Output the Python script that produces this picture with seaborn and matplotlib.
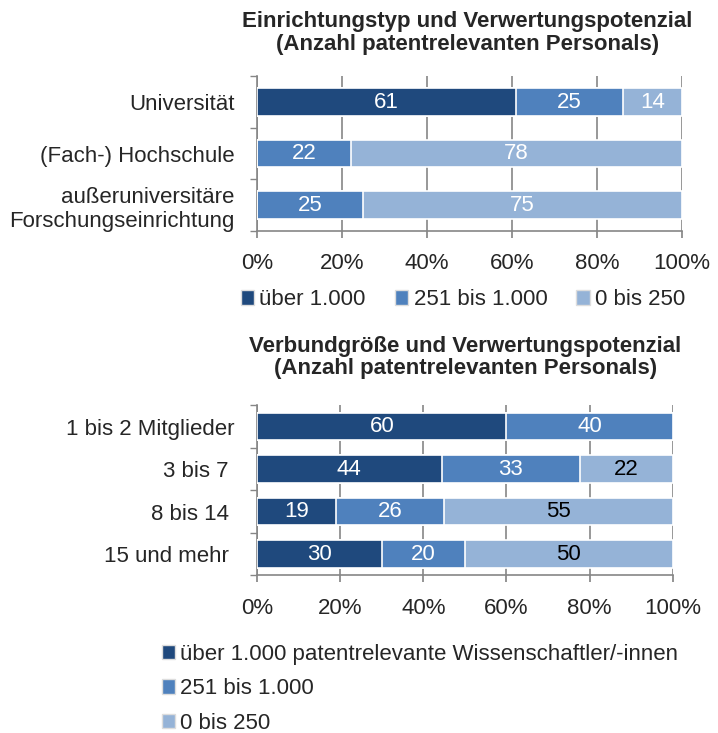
import matplotlib
matplotlib.use("Agg")
import matplotlib.pyplot as plt
from matplotlib.patches import Patch
import numpy as np
import seaborn as sns

# data
types = ["Universität", "(Fach-) Hochschule", "außeruniversitäre\nForschungseinrichtung"]
types_hi = [61, 0, 0]
types_mid = [25, 22, 25]
types_lo = [14, 78, 75]

sizes = ["1 bis 2 Mitglieder", "3 bis 7 ", "8 bis 14 ", "15 und mehr "]
sizes_hi = [60, 44.4, 19, 30]
sizes_mid = [40, 33.3, 26, 20]
sizes_lo = [0, 22.3, 55, 50]

ticks = [0, 20, 40, 60, 80, 100]
tick_labels = ["0%", "20%", "40%", "60%", "80%", "100%"]

legend_top = ["über 1.000", "251 bis 1.000", "0 bis 250"]
legend_bottom = ["über 1.000 patentrelevante Wissenschaftler/-innen", "251 bis 1.000", "0 bis 250"]

title_top = "Einrichtungstyp und Verwertungspotenzial\n(Anzahl patentrelevanten Personals)"
title_bottom = "Verbundgröße und Verwertungspotenzial\n(Anzahl patentrelevanten Personals)"

colors = ["#1F497D", "#4F81BD", "#95B3D7"]

sns.set_theme(style="white")
plt.rcParams["font.family"] = ["Liberation Sans", "DejaVu Sans"]

FS = 16

fig = plt.figure(figsize=(7.18, 7.33), dpi=100)
ax1 = fig.add_axes([0.358, 0.685, 0.592, 0.211])
ax2 = fig.add_axes([0.358, 0.215, 0.579, 0.232])


def stacked(ax, cats, hi, mid, lo, width, lo_text):
    hi = np.array(hi)
    mid = np.array(mid)
    lo = np.array(lo)
    layers = [hi + mid + lo, hi + mid, hi]
    cols = [colors[2], colors[1], colors[0]]
    for vals, c in zip(layers, cols):
        sns.barplot(x=vals, y=cats, orient="h", color=c, saturation=1,
                    width=width, edgecolor="white", linewidth=1.2, ax=ax, zorder=3)
    # labels
    for i in range(len(cats)):
        starts = [0, hi[i], hi[i] + mid[i]]
        for j, v in enumerate([hi[i], mid[i], lo[i]]):
            if v <= 0:
                continue
            tc = lo_text if j == 2 else "white"
            ax.text(starts[j] + v / 2, i, f"{v:.0f}", ha="center", va="center",
                    color=tc, fontsize=FS, zorder=5)
    ax.set_xlim(0, 100)
    ax.set_ylim(len(cats) - 0.5, -0.5)
    ax.set_xticks(ticks)
    ax.set_xticklabels(tick_labels, fontsize=FS)
    ax.set_xlabel("")
    ax.set_ylabel("")
    ax.tick_params(axis="y", labelsize=FS, length=0, pad=16)
    ax.set_yticks(np.arange(-0.5, len(cats), 1.0), minor=True)
    ax.tick_params(axis="y", which="minor", length=5, color="#868686", direction="out", left=True)
    ax.tick_params(axis="x", length=5, color="#868686", direction="out", bottom=True, pad=11)
    ax.grid(axis="x", color="#868686", linewidth=1.2, zorder=0)
    ax.set_axisbelow(True)
    for s in ["top", "right"]:
        ax.spines[s].set_visible(False)
    for s in ["left", "bottom"]:
        ax.spines[s].set_color("#868686")
        ax.spines[s].set_linewidth(1.2)


stacked(ax1, types, types_hi, types_mid, types_lo, 0.54, "white")
stacked(ax2, sizes, sizes_hi, sizes_mid, sizes_lo, 0.65, "black")

fig.text(0.651, 0.985, title_top, ha="center", va="top", fontsize=FS,
         fontweight="bold", linespacing=1.1)
fig.text(0.648, 0.542, title_bottom, ha="center", va="top", fontsize=FS,
         fontweight="bold", linespacing=1.1)

handles = [Patch(facecolor=c, edgecolor="#dddddd") for c in colors]
fig.legend(handles, legend_top, loc="center left", bbox_to_anchor=(0.335, 0.591),
           ncol=3, frameon=False, fontsize=FS, handlelength=0.6, handleheight=0.6,
           handletextpad=0.25, columnspacing=1.3, borderaxespad=0, borderpad=0)
fig.legend(handles, legend_bottom, loc="upper left", bbox_to_anchor=(0.225, 0.122),
           ncol=1, frameon=False, fontsize=FS, handlelength=0.6, handleheight=0.6,
           handletextpad=0.25, labelspacing=0.62, borderaxespad=0, borderpad=0)

fig.savefig("out.png", dpi=100)
